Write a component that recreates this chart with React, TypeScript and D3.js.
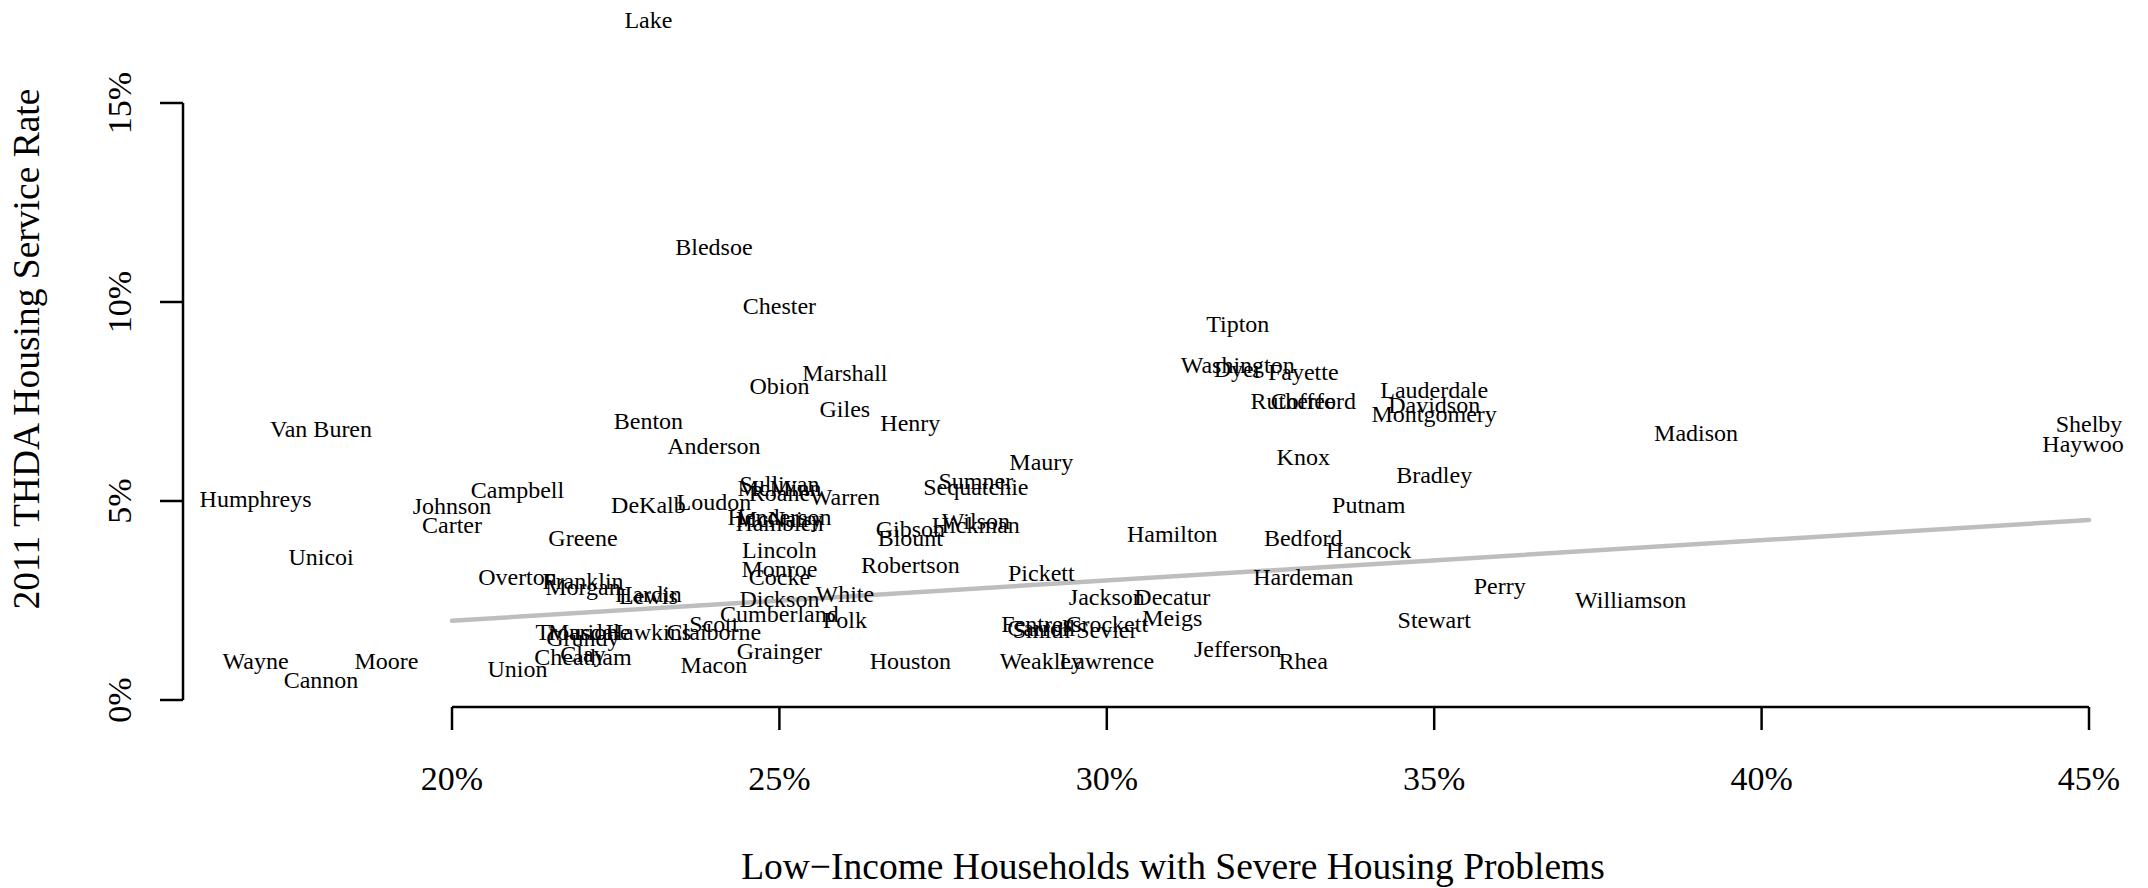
import React from "react";
import * as d3 from "d3";

const counties = ["Lake","Bledsoe","Chester","Tipton","Washington","Dyer","Fayette","Marshall","Obion","Lauderdale","Rutherford","Coffee","Davidson","Giles","Montgomery","Benton","Henry","Shelby","Van Buren","Madison","Haywood","Anderson","Knox","Maury","Bradley","Sumner","Sullivan","Sequatchie","McMinn","Campbell","Roane","Warren","Humphreys","Loudon","DeKalb","Putnam","Johnson","Henderson","McNairy","Hamblen","Wilson","Carter","Hickman","Gibson","Hamilton","Blount","Bedford","Greene","Lincoln","Hancock","Unicoi","Robertson","Monroe","Pickett","Overton","Cocke","Hardeman","Franklin","Perry","Morgan","Hardin","White","Jackson","Decatur","Lewis","Dickson","Williamson","Cumberland","Meigs","Polk","Stewart","Scott","Fentress","Crockett","Carroll","Smith","Sevier","Trousdale","Marion","Hawkins","Claiborne","Grundy","Jefferson","Grainger","Clay","Cheatham","Weakley","Lawrence","Houston","Rhea","Moore","Wayne","Macon","Union","Cannon"];

// Low-income households with severe housing problems (%)
const problemRate = [23,24,25,32,32,32,33,26,25,35,33,33,35,26,35,23,27,45,18,39,45,24,33,29,35,28,25,28,25,21,25,26,17,24,23,34,20,25,25,25,28,20,28,27,31,27,33,22,25,34,18,27,25,29,21,25,33,22,36,22,23,26,30,31,23,25,38,25,31,26,35,24,29,30,29,29,30,22,22,23,24,22,32,25,22,22,29,30,27,33,19,17,24,21,18];

// 2011 THDA housing service rate (%)
const serviceRate = [17.07,11.36,9.88,9.43,8.40,8.30,8.23,8.19,7.88,7.78,7.50,7.48,7.40,7.30,7.16,6.98,6.95,6.92,6.78,6.68,6.40,6.37,6.09,5.95,5.64,5.47,5.40,5.33,5.30,5.26,5.18,5.09,5.02,4.95,4.89,4.89,4.85,4.58,4.54,4.42,4.47,4.37,4.37,4.27,4.16,4.06,4.06,4.06,3.75,3.75,3.58,3.37,3.27,3.17,3.06,3.06,3.06,2.96,2.85,2.82,2.65,2.65,2.58,2.58,2.60,2.51,2.48,2.13,2.03,1.99,1.99,1.89,1.89,1.89,1.80,1.75,1.75,1.69,1.69,1.69,1.69,1.55,1.27,1.20,1.14,1.07,0.96,0.96,0.96,0.96,0.96,0.96,0.86,0.76,0.48];

const xTicks = [20, 25, 30, 35, 40, 45];
const yTicks = [0, 5, 10, 15];
const fitX = [20, 45];
const fitY = [1.99, 4.52];

const xTitle = "Low\u2212Income Households with Severe Housing Problems";
const yTitle = "2011 THDA Housing Service Rate";

export default function App() {
  const W = 2148, H = 888;
  const x = d3.scaleLinear().domain([20, 45]).range([452, 2089]);
  const y = d3.scaleLinear().domain([0, 15]).range([700, 103]);
  const font = "'Liberation Serif', 'Times New Roman', serif";
  const line = d3.line<number>().x((d) => x(fitX[d])).y((d) => y(fitY[d]));
  const axisY = 707;
  const axisX = 183;
  return (
    <svg width={W} height={H} style={{ position: "absolute", left: 0, top: 0, background: "#fff" }} fontFamily={font}>
      <defs>
        <clipPath id="plotclip">
          <rect x={0} y={0} width={2124} height={H} />
        </clipPath>
      </defs>
      <rect x={0} y={0} width={W} height={H} fill="#fff" />
      {/* y axis */}
      <line x1={axisX} x2={axisX} y1={y(15)} y2={y(0)} stroke="#000" strokeWidth={2.5} />
      {yTicks.map((t) => (
        <g key={"yt" + t}>
          <line x1={axisX - 23} x2={axisX} y1={y(t)} y2={y(t)} stroke="#000" strokeWidth={2.5} />
          <text transform={`translate(131,${y(t)}) rotate(-90)`} textAnchor="middle" fontSize={34} fill="#000">{t + "%"}</text>
        </g>
      ))}
      {/* x axis */}
      <line x1={x(20)} x2={x(45)} y1={axisY} y2={axisY} stroke="#000" strokeWidth={2.5} />
      {xTicks.map((t) => (
        <g key={"xt" + t}>
          <line x1={x(t)} x2={x(t)} y1={axisY} y2={axisY + 23} stroke="#000" strokeWidth={2.5} />
          <text x={x(t)} y={790} textAnchor="middle" fontSize={34} fill="#000">{t + "%"}</text>
        </g>
      ))}
      <text x={1173} y={879} textAnchor="middle" fontSize={37.5} fill="#000">{xTitle}</text>
      <text transform={`translate(39,349) rotate(-90)`} textAnchor="middle" fontSize={37.5} fill="#000">{yTitle}</text>
      {/* fit line */}
      <path d={line([0, 1]) || ""} stroke="#BEBEBE" strokeWidth={4.5} fill="none" strokeLinecap="round" />
      {/* labels */}
      <g clipPath="url(#plotclip)">
        {counties.map((c, i) => (
          <text key={c} x={x(problemRate[i])} y={y(serviceRate[i])} dy="0.3em" textAnchor="middle" fontSize={24} fill="#000">{c}</text>
        ))}
      </g>
    </svg>
  );
}
